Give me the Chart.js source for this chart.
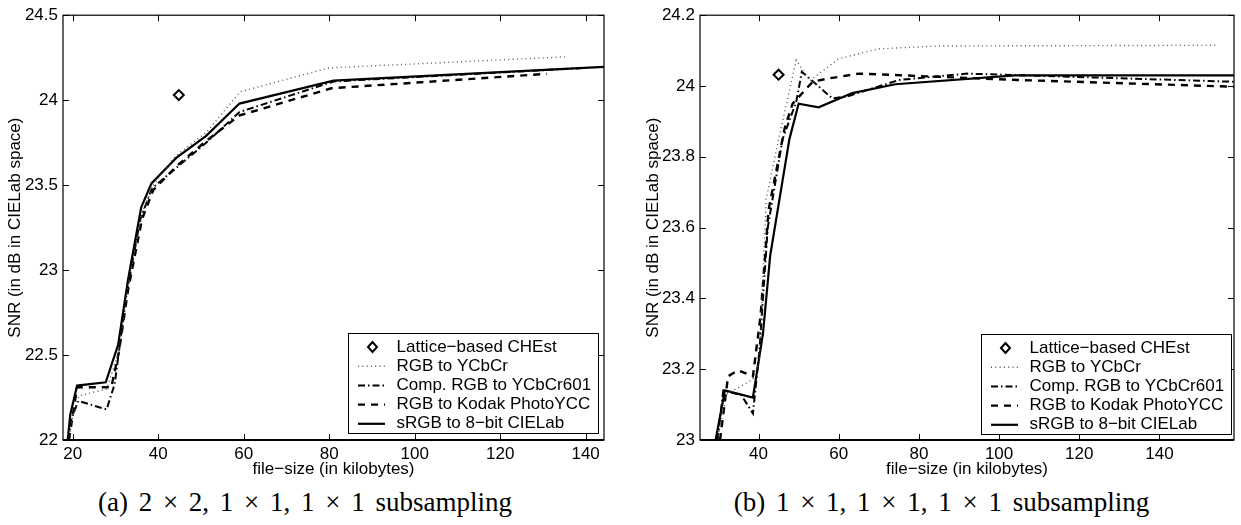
<!DOCTYPE html>
<html>
<head>
<meta charset="utf-8">
<script src="https://cdn.jsdelivr.net/npm/chart.js@4"></script>
<style>
    body { margin: 0; background: #fff; width: 1241px; height: 525px; position: relative; overflow: hidden; }
    canvas { position: absolute; top: 0; }
    .caption {
        position: absolute; top: 487px; line-height: 30px; text-align: center; white-space: nowrap;
        font-family: 'Liberation Serif', 'Times New Roman', serif; font-size: 27px; color: #000;
        word-spacing: 4px;
    }
</style>
</head>
<body>
<canvas id="chartA" width="620" height="480" style="left:0"></canvas>
<canvas id="chartB" width="621" height="480" style="left:620px"></canvas>
<div class="caption" style="left:0;width:610px">(a) 2 × 2, 1 × 1, 1 × 1 subsampling</div>
<div class="caption" style="left:631px;width:621px">(b) 1 × 1, 1 × 1, 1 × 1 subsampling</div>
<script>
const seriesLabels = ['Lattice−based CHEst', 'RGB to YCbCr', 'Comp. RGB to YCbCr601', 'RGB to Kodak PhotoYCC', 'sRGB to 8−bit CIELab'];
const xTitle = 'file−size (in kilobytes)';
const yTitle = 'SNR (in dB in CIELab space)';

// panel (a) 2x2,1x1,1x1 subsampling -- [file-size kB, SNR dB]
const latticeA = [[44.8, 24.03]];
const ycbcrA = [[19.2, 22.0], [19.8, 22.12], [21.4, 22.26], [27.9, 22.30], [30.8, 22.52], [33.0, 22.92], [36.3, 23.34], [38.8, 23.50], [44.0, 23.67], [51.2, 23.81], [59.2, 24.05], [80.0, 24.19], [110.0, 24.225], [135.2, 24.255]];
const compA = [[19.0, 22.0], [19.6, 22.12], [21.3, 22.23], [27.9, 22.18], [29.8, 22.33], [32.5, 22.85], [35.8, 23.30], [38.5, 23.48], [46.5, 23.65], [51.2, 23.75], [59.0, 23.93], [81.0, 24.11], [140.0, 24.19]];
const kodakA = [[19.1, 22.0], [19.7, 22.1], [21.0, 22.31], [29.0, 22.31], [30.8, 22.52], [32.9, 22.88], [36.2, 23.30], [38.8, 23.47], [44.2, 23.61], [51.2, 23.76], [59.0, 23.91], [80.5, 24.07], [130.9, 24.155]];
const srgbA = [[18.8, 22.0], [19.4, 22.15], [21.0, 22.32], [27.7, 22.34], [30.6, 22.56], [32.9, 22.94], [36.0, 23.37], [38.4, 23.51], [44.2, 23.66], [51.2, 23.79], [59.0, 23.98], [81.0, 24.115], [144.3, 24.196]];
const xTicksA = [20, 40, 60, 80, 100, 120, 140];
const yTicksA = [22, 22.5, 23, 23.5, 24, 24.5];

// panel (b) 1x1,1x1,1x1 subsampling
const latticeB = [[45.0, 24.032]];
const ycbcrB = [[29.8, 23.0], [32.0, 23.13], [38.5, 23.17], [40.2, 23.22], [41.9, 23.68], [45.2, 23.86], [49.4, 24.073], [52.8, 24.015], [60.0, 24.077], [70.0, 24.105], [85.0, 24.113], [154.7, 24.115]];
const compB = [[29.8, 23.0], [31.2, 23.14], [35.7, 23.127], [38.6, 23.075], [40.2, 23.25], [42.3, 23.6], [46.0, 23.85], [49.4, 23.955], [50.8, 24.04], [58.4, 23.965], [62.0, 23.97], [75.0, 24.017], [92.0, 24.035], [158.6, 24.012]];
const kodakB = [[30.4, 23.0], [32.4, 23.18], [34.9, 23.197], [38.6, 23.18], [40.5, 23.35], [42.5, 23.65], [46.5, 23.88], [48.5, 23.95], [53.5, 24.012], [56.8, 24.02], [65.0, 24.035], [85.0, 24.026], [104.7, 24.017], [158.6, 23.998]];
const srgbB = [[29.3, 23.0], [31.6, 23.14], [38.6, 23.12], [41.1, 23.30], [42.9, 23.52], [47.7, 23.85], [50.0, 23.95], [55.0, 23.94], [63.4, 23.98], [74.1, 24.005], [104.0, 24.03], [158.6, 24.03]];
const xTicksB = [40, 60, 80, 100, 120, 140];
const yTicksB = [23, 23.2, 23.4, 23.6, 23.8, 24, 24.2];

const lineStyles = [
    { showLine: false, pointStyle: 'rectRot', pointRadius: 5, borderWidth: 2, borderColor: '#000', backgroundColor: '#fff' },
    { showLine: true, pointRadius: 0, borderColor: '#555', borderWidth: 1.4, borderDash: [1, 3.3] },
    { showLine: true, pointRadius: 0, borderColor: '#000', borderWidth: 2, borderDash: [7, 3, 1.5, 3] },
    { showLine: true, pointRadius: 0, borderColor: '#000', borderWidth: 2.4, borderDash: [7, 6] },
    { showLine: true, pointRadius: 0, borderColor: '#000', borderWidth: 2.2 }
];

Chart.defaults.font.family = "'Liberation Sans', Arial, sans-serif";
Chart.defaults.font.size = 17;
Chart.defaults.color = '#000';

// matlab-ish box: inner ticks on every side + legend in the lower right corner
const matlabAxes = {
    id: 'matlabAxes',
    afterDatasetsDraw(chart, args, opts) {
        const { ctx, chartArea: { left, right, top, bottom }, scales } = chart;
        ctx.save();
        ctx.strokeStyle = '#000';
        ctx.setLineDash([]);
        ctx.lineWidth = 1.2;
        ctx.strokeRect(left, top, right - left, bottom - top);
        ctx.lineWidth = 2;
        ctx.beginPath();
        ctx.moveTo(left, bottom);
        ctx.lineTo(right, bottom);
        ctx.stroke();

        ctx.lineWidth = 1;
        ctx.beginPath();
        scales.x.ticks.forEach(t => {
            const px = Math.round(scales.x.getPixelForValue(t.value)) + 0.5;
            ctx.moveTo(px, bottom); ctx.lineTo(px, bottom - 6);
            ctx.moveTo(px, top); ctx.lineTo(px, top + 6);
        });
        scales.y.ticks.forEach(t => {
            const py = Math.round(scales.y.getPixelForValue(t.value)) + 0.5;
            ctx.moveTo(left, py); ctx.lineTo(left + 6, py);
            ctx.moveTo(right, py); ctx.lineTo(right - 6, py);
        });
        ctx.stroke();

        const w = 250, h = 100;
        const bx = Math.round(right - opts.legendRight - w);
        const by = Math.round(bottom - opts.legendBottom - h);
        ctx.fillStyle = '#fff';
        ctx.fillRect(bx, by, w, h);
        ctx.strokeRect(bx + 0.5, by + 0.5, w, h);

        chart.data.datasets.forEach((ds, i) => {
            const cy = by + 14 + i * 19.2;
            if (ds.showLine === false) {
                const cx = bx + 24.5, r = ds.pointRadius;
                ctx.setLineDash([]);
                ctx.lineWidth = ds.borderWidth;
                ctx.strokeStyle = ds.borderColor;
                ctx.beginPath();
                ctx.moveTo(cx - r + 0.5, cy); ctx.lineTo(cx, cy - r);
                ctx.lineTo(cx + r - 0.5, cy); ctx.lineTo(cx, cy + r);
                ctx.closePath();
                ctx.stroke();
            } else {
                ctx.setLineDash(ds.borderDash || []);
                ctx.lineWidth = ds.borderWidth;
                ctx.strokeStyle = ds.borderColor;
                ctx.beginPath();
                ctx.moveTo(bx + 10, cy);
                ctx.lineTo(bx + 37, cy);
                ctx.stroke();
            }
            ctx.fillStyle = '#000';
            ctx.font = "17px 'Liberation Sans', Arial, sans-serif";
            ctx.textBaseline = 'middle';
            ctx.textAlign = 'left';
            ctx.fillText(ds.label, bx + 48.5, cy);
        });
        ctx.restore();
    }
};

function createPanel(canvasId, series, xRange, xTicks, yTicks, layout) {
    const ctx = document.getElementById(canvasId).getContext('2d');

    return new Chart(ctx, {
        type: 'scatter',
        data: {
            datasets: series.map((pts, i) => Object.assign({
                label: seriesLabels[i],
                data: pts.map(([x, y]) => ({ x, y })),
                tension: 0,
                fill: false
            }, lineStyles[i]))
        },
        options: {
            responsive: false,
            animation: false,
            events: [],
            layout: {
                padding: { left: 0, right: layout.padRight, top: 13, bottom: 0 }
            },
            scales: {
                x: {
                    type: 'linear',
                    min: xRange[0],
                    max: xRange[1],
                    afterBuildTicks: s => { s.ticks = xTicks.map(v => ({ value: v })); },
                    afterFit: s => { s.height = 40; },
                    grid: { display: false, drawTicks: false },
                    border: { display: false },
                    ticks: { padding: 4, maxRotation: 0, callback: v => String(v) },
                    title: { display: true, text: xTitle, padding: { top: 0, bottom: 0 } }
                },
                y: {
                    type: 'linear',
                    min: yTicks[0],
                    max: yTicks[yTicks.length - 1],
                    afterBuildTicks: s => { s.ticks = yTicks.map(v => ({ value: v })); },
                    afterFit: s => { s.width = layout.yWidth; },
                    grid: { display: false, drawTicks: false },
                    border: { display: false },
                    ticks: { padding: 5, callback: v => String(v) },
                    title: { display: true, text: yTitle, padding: { top: layout.yTitlePad, bottom: 0 } }
                }
            },
            plugins: {
                legend: { display: false },
                tooltip: { enabled: false },
                matlabAxes: { legendRight: layout.legendRight, legendBottom: layout.legendBottom }
            }
        },
        plugins: [matlabAxes]
    });
}

createPanel('chartA', [latticeA, ycbcrA, compA, kodakA, srgbA], [17.7, 144.3], xTicksA, yTicksA,
    { padRight: 16, yWidth: 63, yTitlePad: 5, legendRight: 6, legendBottom: 7 });
createPanel('chartB', [latticeB, ycbcrB, compB, kodakB, srgbB], [25.4, 158.6], xTicksB, yTicksB,
    { padRight: 4, yWidth: 80, yTitlePad: 23, legendRight: 3, legendBottom: 6 });
</script>
</body>
</html>
